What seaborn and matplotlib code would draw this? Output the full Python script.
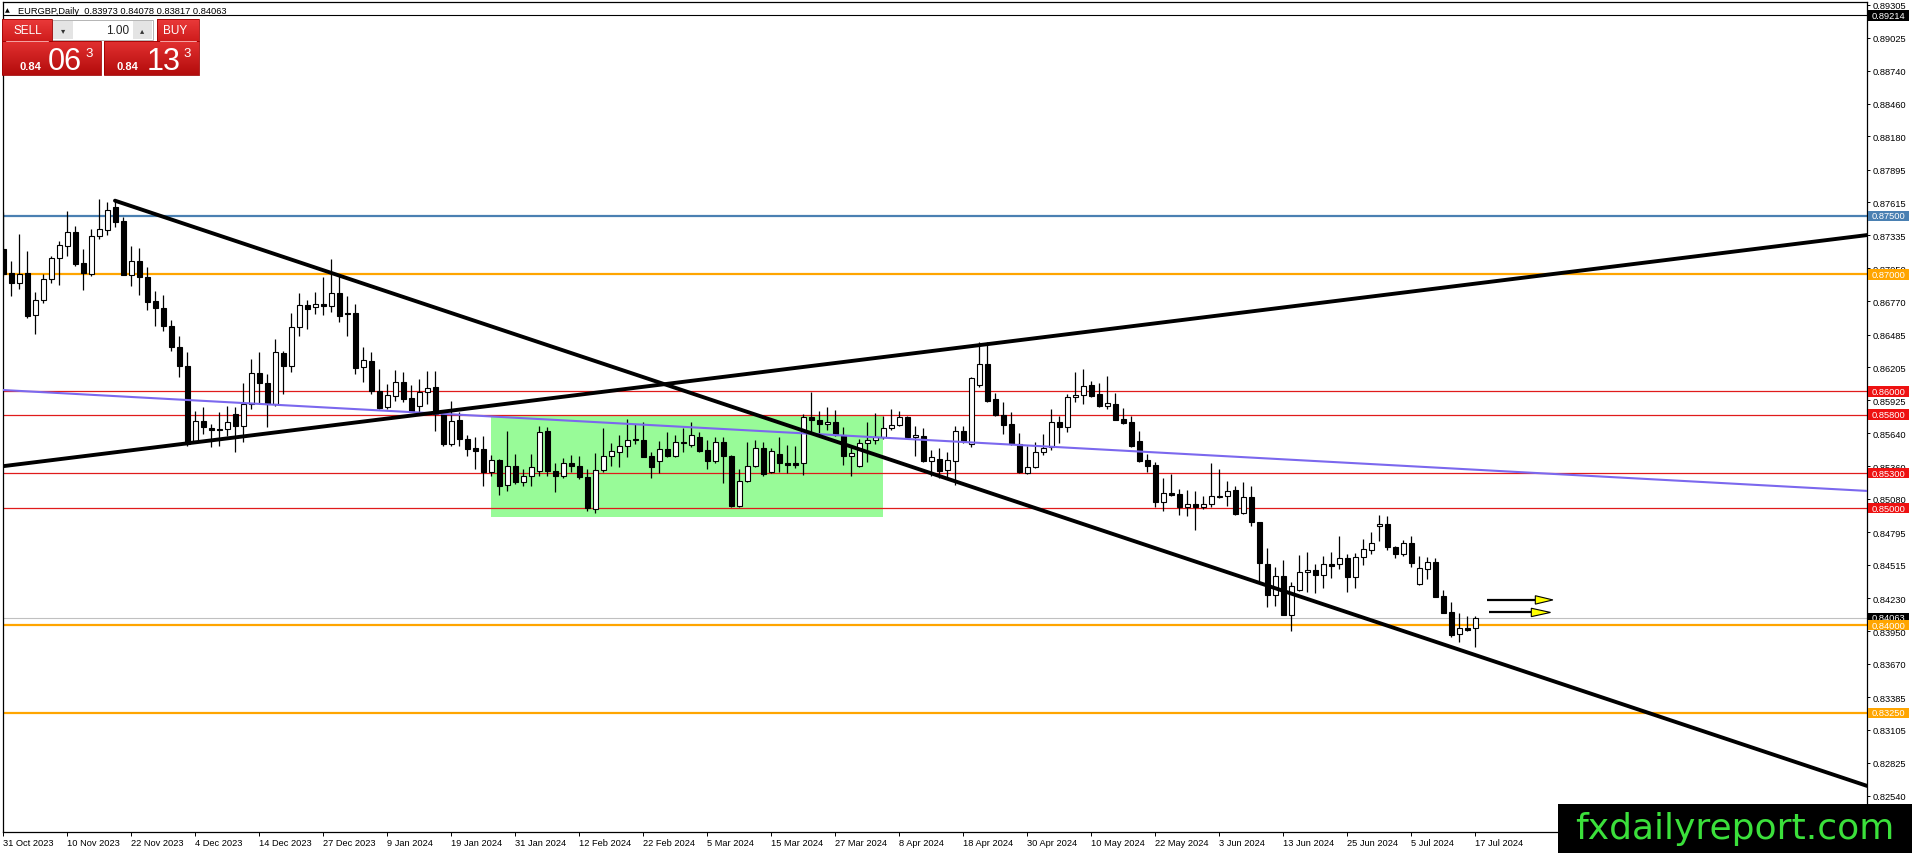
import matplotlib
matplotlib.use("Agg")
import matplotlib.pyplot as plt
import seaborn as sns
import numpy as np
from matplotlib.patches import Rectangle, Polygon
from matplotlib import transforms
from matplotlib.colors import LinearSegmentedColormap

# ---------------- data ----------------
opens = [0.87216,0.87011,0.86923,0.87011,0.86652,0.86783,0.86960,0.87137,0.87239,0.87359,
0.87097,0.87003,0.87325,0.87382,0.87573,0.87453,0.86994,0.87114,0.86980,0.86772,
0.86709,0.86561,0.86376,0.86213,0.85578,0.85743,0.85686,0.85677,0.85677,0.85803,
0.85700,0.85891,0.86156,0.86071,0.85891,0.86327,0.86213,0.86547,0.86738,0.86718,
0.86743,0.86732,0.86840,0.86669,0.86669,0.86205,0.86256,0.86000,0.85863,0.85963,
0.86077,0.85940,0.85877,0.85997,0.86034,0.85806,0.85550,0.85758,0.85592,0.85516,
0.85507,0.85313,0.85413,0.85202,0.85364,0.85222,0.85273,0.85322,0.85658,0.85322,
0.85273,0.85384,0.85364,0.85265,0.84994,0.85330,0.85450,0.85478,0.85535,0.85592,
0.85584,0.85450,0.85407,0.85507,0.85450,0.85564,0.85541,0.85607,0.85498,0.85407,
0.85564,0.85444,0.85022,0.85236,0.85364,0.85513,0.85307,0.85464,0.85387,0.85387,
0.85384,0.85777,0.85754,0.85717,0.85734,0.85626,0.85444,0.85364,0.85555,0.85586,
0.85606,0.85683,0.85712,0.85777,0.85606,0.85620,0.85407,0.85421,0.85330,0.85407,
0.85658,0.85549,0.86057,0.86233,0.85934,0.85800,0.85717,0.85549,0.85301,0.85350,
0.85478,0.85526,0.85740,0.85692,0.85948,0.85968,0.86054,0.85977,0.85871,0.85891,
0.85763,0.85734,0.85572,0.85415,0.85370,0.85056,0.85130,0.85122,0.85008,0.85033,
0.85008,0.85036,0.85093,0.85102,0.85156,0.84959,0.85093,0.84879,0.84523,0.84261,
0.84418,0.84090,0.84304,0.84452,0.84472,0.84432,0.84523,0.84523,0.84575,0.84415,
0.84580,0.84646,0.84845,0.84862,0.84666,0.84609,0.84700,0.84352,0.84480,0.84537,
0.84247,0.84110,0.83925,0.83976,0.83973]
highs = [0.87530,0.87117,0.87345,0.87202,0.86846,0.87003,0.87159,0.87288,0.87539,0.87416,
0.87216,0.87387,0.87644,0.87615,0.87630,0.87487,0.87239,0.87222,0.87060,0.86860,
0.86823,0.86612,0.86475,0.86333,0.85834,0.85863,0.85720,0.85820,0.85877,0.85863,
0.86071,0.86276,0.86333,0.86148,0.86447,0.86347,0.86669,0.86840,0.86783,0.86846,
0.86974,0.87131,0.86988,0.86817,0.86746,0.86376,0.86333,0.86190,0.86062,0.86185,
0.86162,0.86054,0.86105,0.86177,0.86177,0.85835,0.85920,0.85820,0.85627,0.85607,
0.85621,0.85456,0.85421,0.85664,0.85461,0.85336,0.85464,0.85706,0.85692,0.85387,
0.85427,0.85456,0.85450,0.85336,0.85473,0.85684,0.85555,0.85627,0.85763,0.85721,
0.85735,0.85484,0.85578,0.85655,0.85627,0.85684,0.85741,0.85649,0.85587,0.85607,
0.85607,0.85456,0.85336,0.85570,0.85587,0.85564,0.85512,0.85606,0.85541,0.85535,
0.85806,0.85997,0.85834,0.85863,0.85843,0.85692,0.85521,0.85592,0.85740,0.85814,
0.85791,0.85848,0.85834,0.85791,0.85706,0.85683,0.85498,0.85512,0.85478,0.85700,
0.85700,0.86119,0.86424,0.86424,0.85985,0.85911,0.85820,0.85643,0.85529,0.85563,
0.85635,0.85848,0.85791,0.85977,0.86168,0.86190,0.86091,0.86071,0.86128,0.85985,
0.85854,0.85791,0.85658,0.85464,0.85392,0.85256,0.85293,0.85164,0.85159,0.85150,
0.85102,0.85387,0.85335,0.85236,0.85187,0.85227,0.85187,0.84879,0.84657,0.84495,
0.84560,0.84372,0.84600,0.84623,0.84523,0.84589,0.84629,0.84760,0.84609,0.84617,
0.84737,0.84800,0.84945,0.84936,0.84680,0.84728,0.84760,0.84589,0.84580,0.84572,
0.84304,0.84195,0.84104,0.84081,0.84078]
lows = [0.86988,0.86812,0.86874,0.86624,0.86490,0.86755,0.86926,0.86909,0.87154,0.87068,
0.86869,0.86988,0.87302,0.87336,0.87407,0.86994,0.86903,0.86826,0.86698,0.86561,
0.86518,0.86347,0.86119,0.85535,0.85563,0.85635,0.85521,0.85535,0.85620,0.85478,
0.85563,0.85848,0.85891,0.85692,0.85877,0.85977,0.86162,0.86475,0.86532,0.86661,
0.86655,0.86675,0.86589,0.86475,0.86148,0.86082,0.85977,0.85848,0.85848,0.85920,
0.85912,0.85820,0.85820,0.85892,0.85664,0.85535,0.85530,0.85535,0.85450,0.85336,
0.85193,0.85279,0.85114,0.85151,0.85208,0.85188,0.85188,0.85279,0.85279,0.85136,
0.85256,0.85307,0.85250,0.84980,0.84960,0.85307,0.85364,0.85356,0.85436,0.85550,
0.85436,0.85259,0.85302,0.85436,0.85436,0.85478,0.85521,0.85478,0.85336,0.85387,
0.85216,0.85008,0.85008,0.85222,0.85350,0.85279,0.85301,0.85307,0.85301,0.85341,
0.85284,0.85635,0.85635,0.85672,0.85620,0.85370,0.85278,0.85355,0.85392,0.85549,
0.85592,0.85672,0.85706,0.85598,0.85449,0.85392,0.85278,0.85256,0.85264,0.85199,
0.85558,0.85521,0.86034,0.85911,0.85791,0.85635,0.85541,0.85301,0.85293,0.85341,
0.85455,0.85498,0.85558,0.85655,0.85911,0.85891,0.85948,0.85863,0.85848,0.85754,
0.85720,0.85521,0.85398,0.85313,0.85008,0.84979,0.85102,0.84942,0.84936,0.84817,
0.84993,0.85008,0.85085,0.85022,0.84942,0.84951,0.84851,0.84381,0.84158,0.84161,
0.84090,0.83953,0.84295,0.84281,0.84275,0.84318,0.84401,0.84480,0.84287,0.84315,
0.84515,0.84609,0.84723,0.84646,0.84572,0.84589,0.84495,0.84344,0.84395,0.84238,
0.84104,0.83896,0.83859,0.83953,0.83817]
closes = [0.87003,0.86923,0.87003,0.86646,0.86783,0.86960,0.87140,0.87251,0.87359,0.87088,
0.87011,0.87325,0.87387,0.87547,0.87450,0.86994,0.87114,0.86974,0.86760,0.86709,
0.86555,0.86376,0.86213,0.85549,0.85743,0.85692,0.85669,0.85669,0.85734,0.85700,
0.85891,0.86156,0.86068,0.85891,0.86333,0.86213,0.86547,0.86738,0.86703,0.86746,
0.86732,0.86840,0.86646,0.86661,0.86199,0.86267,0.86000,0.85857,0.85968,0.86077,
0.85934,0.85835,0.85997,0.86026,0.85806,0.85550,0.85744,0.85592,0.85507,0.85493,
0.85307,0.85413,0.85193,0.85364,0.85222,0.85279,0.85350,0.85655,0.85316,0.85273,
0.85384,0.85359,0.85265,0.85000,0.85330,0.85450,0.85493,0.85535,0.85587,0.85581,
0.85441,0.85356,0.85507,0.85450,0.85564,0.85555,0.85630,0.85493,0.85407,0.85564,
0.85444,0.85017,0.85236,0.85364,0.85513,0.85293,0.85492,0.85384,0.85370,0.85373,
0.85777,0.85754,0.85720,0.85734,0.85626,0.85444,0.85469,0.85555,0.85583,0.85606,
0.85683,0.85712,0.85777,0.85606,0.85626,0.85407,0.85435,0.85321,0.85415,0.85658,
0.85578,0.86111,0.86233,0.85920,0.85800,0.85712,0.85549,0.85307,0.85350,0.85478,
0.85512,0.85740,0.85692,0.85948,0.85968,0.86048,0.85957,0.85871,0.85897,0.85757,
0.85726,0.85535,0.85407,0.85364,0.85056,0.85130,0.85116,0.85008,0.85033,0.85008,
0.85033,0.85102,0.85107,0.85150,0.84951,0.85093,0.84885,0.84529,0.84261,0.84418,
0.84090,0.84332,0.84452,0.84472,0.84432,0.84523,0.84509,0.84575,0.84415,0.84580,
0.84651,0.84703,0.84862,0.84666,0.84609,0.84700,0.84532,0.84486,0.84537,0.84244,
0.84104,0.83916,0.83973,0.83962,0.84063]

date_labels = ["31 Oct 2023","10 Nov 2023","22 Nov 2023","4 Dec 2023","14 Dec 2023",
               "27 Dec 2023","9 Jan 2024","19 Jan 2024","31 Jan 2024","12 Feb 2024",
               "22 Feb 2024","5 Mar 2024","15 Mar 2024","27 Mar 2024","8 Apr 2024",
               "18 Apr 2024","30 Apr 2024","10 May 2024","22 May 2024","3 Jun 2024",
               "13 Jun 2024","25 Jun 2024","5 Jul 2024","17 Jul 2024"]
date_bar_index = list(range(0, 185, 8))

price_ticks = [0.89305,0.89025,0.88740,0.88460,0.88180,0.87895,0.87615,0.87335,0.87050,
               0.86770,0.86485,0.86205,0.85925,0.85640,0.85360,0.85080,0.84795,0.84515,
               0.84230,0.83950,0.83670,0.83385,0.83105,0.82825,0.82540]

levels_red = [0.86000, 0.85800, 0.85300, 0.85000]
levels_orange = [0.87000, 0.84000, 0.83250]
levels_blue = [0.87500]
ask_level = 0.89214
last_price = 0.84063
header_ohlc = [0.83973, 0.84078, 0.83817, 0.84063]

trend_down_x = [13.96, 233.0]
trend_down_y = [0.87630, 0.82625]
trend_up_x = [-0.1, 233.0]
trend_up_y = [0.85359, 0.87336]
channel_x = [-0.1, 233.0]
channel_y = [0.86011, 0.85148]

zone_x = [61, 110]
zone_low, zone_high = 0.84923, 0.85786

arrow_y = [0.84216, 0.84109]
arrow_start = [185.4, 185.7]
arrow_head = [191.5, 191.0]
arrow_tip = [193.7, 193.4]

# ---------------- figure ----------------
sns.set_theme(style="white")
plt.rcParams['font.family'] = ['Liberation Sans', 'DejaVu Sans']

W, H = 1912, 854
fig = plt.figure(figsize=(W / 100, H / 100), dpi=100)
fig.patch.set_facecolor('white')
L, R, T, B = 2.5, 1867.0, 2.5, 833.3
ax = fig.add_axes([L / W, 1 - B / H, (R - L) / W, (B - T) / H])
ax.set_facecolor('white')
YMIN, YMAX = 0.82229, 0.89333
ax.set_xlim(-0.1, 232.96)
ax.set_ylim(YMIN, YMAX)
ax.grid(False)
for s in ax.spines.values():
    s.set_color('black')
    s.set_linewidth(0.9)

px_y = (YMAX - YMIN) / (B - T)   # price per pixel

# zone
ax.fill_between(zone_x, [zone_low] * 2, [zone_high] * 2, color='#98fb98', lw=0, zorder=0.5)

# horizontal levels
for lv in levels_red:
    ax.axhline(lv, color='#e01b1b', lw=0.9, zorder=1)
for lv in levels_orange:
    ax.axhline(lv, color='#ffa500', lw=1.6, zorder=1)
for lv in levels_blue:
    ax.axhline(lv, color='#4a80b2', lw=1.6, zorder=1)
ax.axhline(ask_level, color='black', lw=0.8, zorder=1)
ax.axhline(last_price, color='#c0c0c0', lw=0.8, zorder=1)

# candles
x = np.arange(len(opens))
o = np.array(opens); h = np.array(highs); l = np.array(lows); c = np.array(closes)
ax.vlines(x, l, h, color='black', lw=0.9, zorder=2.9)
bottoms = np.minimum(o, c)
heights = np.maximum(np.abs(c - o), 0.000025)
faces = ['white' if cc >= oo else 'black' for oo, cc in zip(o, c)]
ax.bar(x, heights, bottom=bottoms, width=0.6, color=faces, edgecolor='black',
       linewidth=0.8, zorder=3)

# trend lines
sns.lineplot(x=trend_down_x, y=trend_down_y, ax=ax, color='black', lw=2.8,
             sort=False, estimator=None, zorder=4)
sns.lineplot(x=trend_up_x, y=trend_up_y, ax=ax, color='black', lw=2.8,
             sort=False, estimator=None, zorder=4)
sns.lineplot(x=channel_x, y=channel_y, ax=ax, color='#7b68ee', lw=1.5,
             sort=False, estimator=None, zorder=3.5)

# arrows
for yv, xs, xh, xt in zip(arrow_y, arrow_start, arrow_head, arrow_tip):
    ax.plot([xs, xh], [yv, yv], color='black', lw=1.6, zorder=5, solid_capstyle='butt')
    hh = 4.2 * px_y
    ax.add_patch(Polygon([(xh, yv + hh), (xt, yv), (xh, yv - hh)], closed=True,
                         facecolor='#ffff00', edgecolor='black', lw=0.8, zorder=5))

# axes ticks
ax.yaxis.tick_right()
ax.set_yticks(price_ticks)
ax.set_yticklabels([f"{v:.5f}" for v in price_ticks])
ax.tick_params(axis='y', which='both', right=True, left=False, direction='out',
               length=2.5, width=0.7, pad=1.2, labelsize=6.7, colors='black')
ax.set_xticks(date_bar_index)
ax.set_xticklabels(date_labels)
ax.tick_params(axis='x', which='both', bottom=True, top=False, direction='out',
               length=3, width=0.7, pad=0.8, labelsize=6.7, colors='black')
for lab in ax.get_xticklabels():
    lab.set_ha('left')
ax.set_xlim(-0.1, 232.96)
ax.set_ylim(YMIN, YMAX)

# right-axis price boxes
tr = transforms.blended_transform_factory(ax.transAxes, ax.transData)
bx0 = (1868 - L) / (R - L)
bw = 41 / (R - L)
bh = 10.5 * px_y
tx = (1871.5 - L) / (R - L)
boxes = [(ask_level, 'black'), (0.87500, '#4a80b2'), (0.87000, '#ffa500'),
         (0.86000, '#ee1111'), (0.85800, '#ee1111'), (0.85300, '#ee1111'),
         (0.85000, '#ee1111'), (last_price, 'black'), (0.84000, '#ffa500'),
         (0.83250, '#ffa500')]
for i, (p, col) in enumerate(boxes):
    ax.add_patch(Rectangle((bx0, p - bh / 2), bw, bh, transform=tr, facecolor=col,
                           edgecolor='none', clip_on=False, zorder=6 + i * 0.01))
    ax.text(tx, p, f"{p:.5f}", transform=tr, color='white', fontsize=6.7, va='center',
            ha='left', clip_on=False, zorder=6.005 + i * 0.01)

# ---------------- overlay (panel, header, watermark) ----------------
ov = fig.add_axes([0, 0, 1, 1], zorder=20)
ov.patch.set_alpha(0)
ov.axis('off')


def grad_box(x0, y0, x1, y1, top, bottom):
    cmap = LinearSegmentedColormap.from_list('g', [top, bottom])
    ov.imshow(np.linspace(0, 1, 64).reshape(-1, 1), extent=(x0, x1, y1, y0),
              cmap=cmap, aspect='auto', zorder=21, interpolation='bilinear')
    ov.add_patch(Rectangle((x0, y0), x1 - x0, y1 - y0, fill=False,
                           edgecolor='#a00000', lw=0.6, zorder=21.5))


grad_box(2, 20, 52, 42, '#ea3a3a', '#cf1c1c')
grad_box(157, 20, 199, 42, '#ea3a3a', '#cf1c1c')
grad_box(2, 42, 101, 76, '#e23030', '#b30c0c')
grad_box(104, 42, 199, 76, '#e23030', '#b30c0c')
ov.plot([6, 48], [41.6, 41.6], color='#f7a5a5', lw=0.7, zorder=22)
ov.plot([160, 196], [41.6, 41.6], color='#f7a5a5', lw=0.7, zorder=22)

ov.add_patch(Rectangle((52, 20.7), 101, 20, facecolor='white', edgecolor='#b4b4b4',
                       lw=0.7, zorder=21))
ov.add_patch(Rectangle((53.5, 21.8), 19.5, 17.8, facecolor='#e4e4e4', edgecolor='none',
                       zorder=21.2))
ov.add_patch(Rectangle((133, 21.8), 19, 17.8, facecolor='#e4e4e4', edgecolor='none',
                       zorder=21.2))
ov.text(63.2, 30.5, '\u25BE', fontsize=6, color='#333333', ha='center', va='center',
        family=['DejaVu Sans'], zorder=22)
ov.text(142.5, 30.5, '\u25B4', fontsize=6, color='#333333', ha='center', va='center',
        family=['DejaVu Sans'], zorder=22)
ov.text(129, 30.5, '1.00', fontsize=8.5, color='#222222', ha='right', va='center', zorder=22)
ov.text(27.5, 30.8, 'SELL', fontsize=8.5, color='white', ha='center', va='center', zorder=22)
ov.text(175, 30.8, 'BUY', fontsize=8.5, color='white', ha='center', va='center', zorder=22)

ov.text(30, 69.5, '0.84', fontsize=8, color='white', ha='center', va='baseline',
        fontweight='bold', zorder=22)
ov.text(47.5, 70, '06', fontsize=22, color='white', ha='left', va='baseline', zorder=22)
ov.text(85, 57, '3', fontsize=9.5, color='white', ha='left', va='baseline', zorder=22)
ov.text(127.5, 69.5, '0.84', fontsize=8, color='white', ha='center', va='baseline',
        fontweight='bold', zorder=22)
ov.text(146.5, 70, '13', fontsize=22, color='white', ha='left', va='baseline', zorder=22)
ov.text(183, 57, '3', fontsize=9.5, color='white', ha='left', va='baseline', zorder=22)

ov.text(7, 11, '\u25B2', fontsize=4.5, color='black', ha='center', va='center',
        family=['DejaVu Sans'], zorder=22)
ov.text(18, 11, 'EURGBP,Daily  ' + ' '.join(f"{v:.5f}" for v in header_ohlc),
        fontsize=6.7, color='black', ha='left', va='center', zorder=22)

ov.add_patch(Rectangle((1558, 804.5), W - 1558, H - 804.5, facecolor='black',
                       edgecolor='none', zorder=23))
ov.text(1575, 839.5, 'fxdailyreport.com', fontsize=26, color='#3be03b', ha='left',
        va='baseline', family=['DejaVu Sans'], zorder=24)

ov.set_xlim(0, W)
ov.set_ylim(H, 0)

fig.savefig('out.png', dpi=100, facecolor='white')
